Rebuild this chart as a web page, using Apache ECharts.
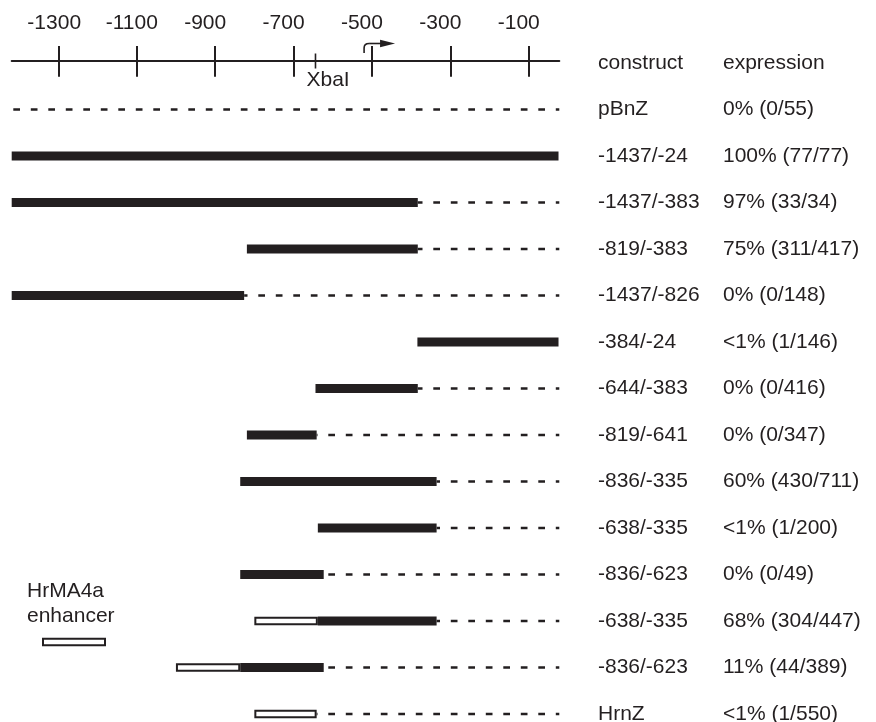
<!DOCTYPE html>
<html>
<head>
<meta charset="utf-8">
<script src="https://cdn.jsdelivr.net/npm/echarts@6/dist/echarts.min.js"></script>
<style>
html,body{margin:0;padding:0;background:#fff;}
#chart{width:876px;height:722px;}
</style>
</head>
<body>
<div id="chart"></div>
<script>
// ---------------- data ----------------
const tickValues = [-1300, -1100, -900, -700, -500, -300, -100];
const constructs = ['pBnZ', '-1437/-24', '-1437/-383', '-819/-383', '-1437/-826', '-384/-24',
  '-644/-383', '-819/-641', '-836/-335', '-638/-335', '-836/-623', '-638/-335', '-836/-623', 'HrnZ'];
const expression = ['0% (0/55)', '100% (77/77)', '97% (33/34)', '75% (311/417)', '0% (0/148)',
  '<1% (1/146)', '0% (0/416)', '0% (0/347)', '60% (430/711)', '<1% (1/200)', '0% (0/49)',
  '68% (304/447)', '11% (44/389)', '<1% (1/550)'];
// genomic fragment (black bar) start / end
const fragStart = [null, -1437, -1437, -819, -1437, -384, -644, -819, -836, -638, -836, -638, -836, null];
const fragEnd   = [null,   -24,  -383, -383,  -826,  -24, -383, -641, -335, -335, -623, -335, -623, null];
// HrMA4a enhancer (open box) start / end
const enhStart = [null, null, null, null, null, null, null, null, null, null, null, -800, -1000, -800];
const enhEnd   = [null, null, null, null, null, null, null, null, null, null, null, -638, -836, -641];
const xbaISite = -644;
const tssSite = -520;

// ---------------- styling ----------------
const INK = '#231f20';
const FONT = '"Liberation Sans", Arial, Helvetica, sans-serif';
const FS = 21;

const chart = echarts.init(document.getElementById('chart'), null, {renderer: 'canvas'});

function renderRow(params, api) {
  const i = params.dataIndex;
  const row = i + 1;
  const cs = params.coordSys;
  const xL = cs.x, xR = cs.x + cs.width;
  const y = api.coord([tickValues[0], row])[1];
  const px = v => Math.min(xR, Math.max(xL, api.coord([v, row])[0]));
  const s = fragStart[i], e = fragEnd[i], es = enhStart[i], ee = enhEnd[i];
  const children = [];
  let tail = xL;
  if (e != null) tail = Math.max(tail, px(e));
  if (ee != null) tail = Math.max(tail, px(ee));
  if (xR - tail > 3) {
    const period = 17.5;
    const off = (((tail - (xL + 1.6)) % period) + period) % period;
    children.push({
      type: 'line',
      shape: {x1: tail, y1: y, x2: xR, y2: y},
      style: {stroke: INK, lineWidth: 2.7, lineDash: [6.7, 10.8], lineDashOffset: off}
    });
  }
  if (es != null) {
    const a = px(es), b = px(ee);
    children.push({
      type: 'rect',
      shape: {x: a + 1, y: y - 3.3, width: b - a - 2, height: 6.6},
      style: {fill: '#fff', stroke: INK, lineWidth: 2}
    });
  }
  if (s != null) {
    const a = px(s), b = px(e);
    children.push({
      type: 'rect',
      shape: {x: a, y: y - 4.4, width: b - a, height: 8.8},
      style: {fill: INK}
    });
  }
  return {type: 'group', children};
}

function renderXbaI(params, api) {
  const p = api.coord([api.value(0), api.value(1)]);
  // ruler row sits on the axis line
  const y = 61;
  return {
    type: 'group',
    children: [
      {type: 'line', shape: {x1: p[0], y1: y - 7.5, x2: p[0], y2: y + 7.5},
        style: {stroke: INK, lineWidth: 1.6}},
      {type: 'text', x: p[0] - 9, y: y + 19,
        style: {text: 'XbaI', fill: INK, fontSize: FS, fontFamily: FONT, align: 'left', verticalAlign: 'middle'}}
    ]
  };
}

function renderTss(params, api) {
  const p = api.coord([api.value(0), api.value(1)]);
  const x = p[0], y = 61;
  const st = {stroke: INK, lineWidth: 1.6, fill: null};
  return {
    type: 'group',
    children: [
      {type: 'line', shape: {x1: x, y1: y - 8, x2: x, y2: y - 13}, style: st},
      {type: 'bezierCurve', shape: {x1: x, y1: y - 13, cpx1: x, cpy1: y - 17.5, x2: x + 5, y2: y - 17.5}, style: st},
      {type: 'line', shape: {x1: x + 5, y1: y - 17.5, x2: x + 17, y2: y - 17.5}, style: st},
      {type: 'polygon', shape: {points: [[x + 16, y - 21.2], [x + 31, y - 17.5], [x + 16, y - 13.8]]},
        style: {fill: INK}}
    ]
  };
}

const rowLabels = ['construct'].concat(constructs);
const exprLabels = ['expression'].concat(expression);

const option = {
  animation: false,
  backgroundColor: '#fff',
  grid: {left: 11.7, right: 316.7, top: 39.75, height: 697.5, outerBoundsMode: 'none', containLabel: false},
  xAxis: [
    {
      type: 'value', position: 'top', min: -1419, max: -22, offset: -21.25,
      axisLine: {show: true, lineStyle: {color: INK, width: 2}},
      axisTick: {show: true, inside: false, length: 15, customValues: tickValues, lineStyle: {color: INK, width: 2}},
      axisLabel: {
        show: true, customValues: tickValues, margin: 27.5,
        fontSize: FS, fontFamily: FONT, color: INK,
        formatter: v => '{t|' + v + '}',
        rich: {t: {width: 62, align: 'left', fontSize: FS, fontFamily: FONT, color: INK, lineHeight: FS}}
      },
      splitLine: {show: false}
    },
    {
      type: 'value', position: 'top', min: -1419, max: -22, offset: -21.25,
      axisLine: {show: false},
      axisTick: {show: true, inside: true, length: 15.7, customValues: tickValues, lineStyle: {color: INK, width: 2}},
      axisLabel: {show: false},
      splitLine: {show: false}
    }
  ],
  yAxis: [
    {
      type: 'category', inverse: true, position: 'right', data: rowLabels,
      axisLine: {show: false}, axisTick: {show: false}, splitLine: {show: false},
      axisLabel: {interval: 0, margin: 38.7, align: 'left', fontSize: FS, fontFamily: FONT, color: INK}
    },
    {
      type: 'category', inverse: true, position: 'right', data: exprLabels,
      axisLine: {show: false}, axisTick: {show: false}, splitLine: {show: false},
      axisLabel: {interval: 0, margin: 163.7, align: 'left', fontSize: FS, fontFamily: FONT, color: INK}
    }
  ],
  graphic: [
    {type: 'text', x: 27, y: 591, style: {text: 'HrMA4a', fill: INK, fontSize: FS, fontFamily: FONT, align: 'left', verticalAlign: 'middle'}},
    {type: 'text', x: 27, y: 616, style: {text: 'enhancer', fill: INK, fontSize: FS, fontFamily: FONT, align: 'left', verticalAlign: 'middle'}},
    {type: 'rect', shape: {x: 43, y: 638.7, width: 62, height: 6.6}, style: {fill: '#fff', stroke: INK, lineWidth: 2}}
  ],
  series: [
    {
      type: 'custom', name: 'constructs', xAxisIndex: 0, yAxisIndex: 0,
      renderItem: renderRow,
      encode: {x: 0, y: 1},
      data: constructs.map((c, i) => [fragStart[i] != null ? fragStart[i] : (enhStart[i] != null ? enhStart[i] : -1419), i + 1])
    },
    {
      type: 'custom', name: 'XbaI', xAxisIndex: 0, yAxisIndex: 0,
      renderItem: renderXbaI, encode: {x: 0, y: 1},
      data: [[xbaISite, 0]]
    },
    {
      type: 'custom', name: 'TSS', xAxisIndex: 0, yAxisIndex: 0,
      renderItem: renderTss, encode: {x: 0, y: 1},
      data: [[tssSite, 0]]
    }
  ]
};
chart.setOption(option);
</script>
</body>
</html>
